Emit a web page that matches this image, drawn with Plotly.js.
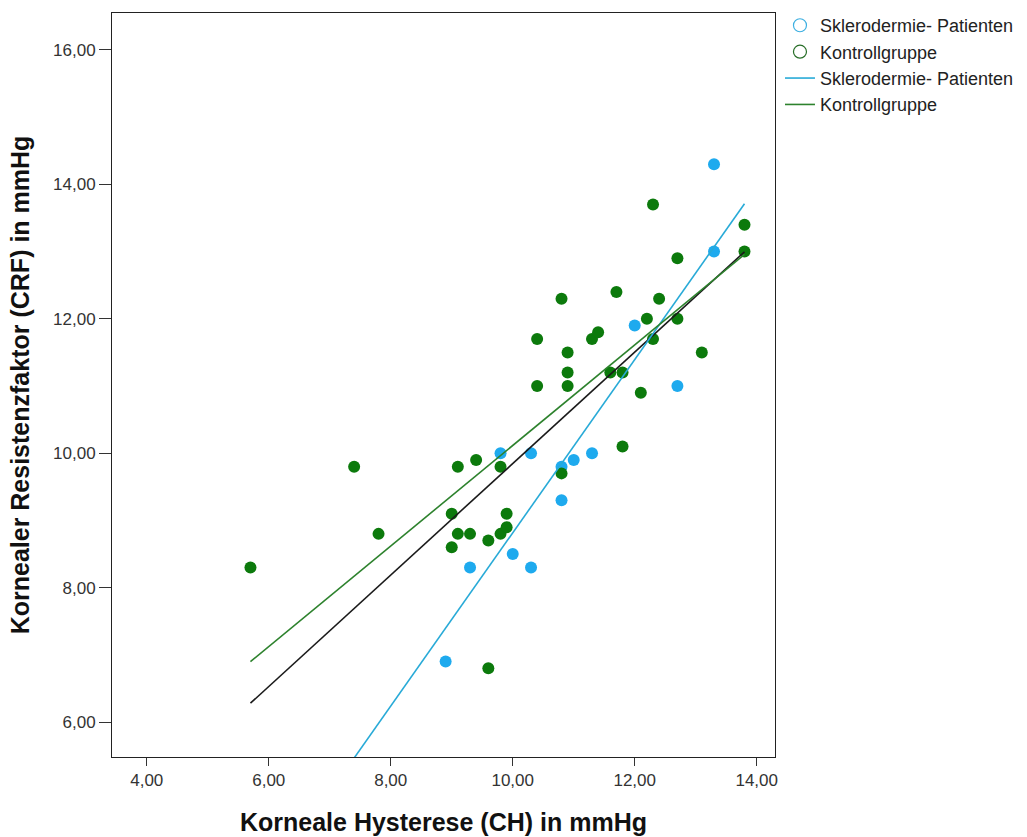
<!DOCTYPE html>
<html>
<head>
<meta charset="utf-8">
<script src="https://cdn.plot.ly/plotly-3.0.1.min.js"></script>
<style>html,body{margin:0;padding:0;background:#fff;}#chart{width:1027px;height:837px;}</style>
</head>
<body>
<div id="chart"></div>
<script>
// Sklerodermie-Patienten (CH, CRF)
const sklCH  = [13.3, 13.3, 12.0, 12.7, 9.8, 10.3, 11.0, 11.3, 10.8, 10.8, 10.0, 9.3, 10.3, 8.9];
const sklCRF = [14.3, 13.0, 11.9, 11.0, 10.0, 10.0, 9.9, 10.0, 9.8, 9.3, 8.5, 8.3, 8.3, 6.9];
// Kontrollgruppe (CH, CRF)
const konCH  = [5.7, 7.4, 7.8, 9.1, 9.4, 9.8, 9.0, 9.1, 9.3, 9.0, 9.6, 9.8, 9.9, 9.9, 9.6,
                10.8, 11.8, 10.4, 10.9, 10.9, 11.6, 11.8, 12.1, 10.9, 13.1, 10.4, 11.3, 11.4,
                12.3, 12.2, 12.7, 10.8, 11.7, 12.4, 12.7, 12.3, 13.8, 13.8];
const konCRF = [8.3, 9.8, 8.8, 9.8, 9.9, 9.8, 9.1, 8.8, 8.8, 8.6, 8.7, 8.8, 8.9, 9.1, 6.8,
                9.7, 10.1, 11.0, 11.0, 11.2, 11.2, 11.2, 10.9, 11.5, 11.5, 11.7, 11.7, 11.8,
                11.7, 12.0, 12.0, 12.3, 12.4, 12.3, 12.9, 13.7, 13.4, 13.0];
const groupNames = ["Sklerodermie- Patienten", "Kontrollgruppe"];
const xTicks = [4, 6, 8, 10, 12, 14];
const yTicks = [6, 8, 10, 12, 14, 16];

const allCH = sklCH.concat(konCH);
const allCRF = sklCRF.concat(konCRF);
const xMin = Math.min(...allCH), xMax = Math.max(...allCH);

function fit(xs, ys) {
  const n = xs.length;
  const mx = xs.reduce((a, b) => a + b, 0) / n;
  const my = ys.reduce((a, b) => a + b, 0) / n;
  let sxy = 0, sxx = 0;
  for (let i = 0; i < n; i++) { sxy += (xs[i] - mx) * (ys[i] - my); sxx += (xs[i] - mx) ** 2; }
  const b = sxy / sxx, a = my - b * mx;
  return { x: [xMin, xMax], y: [a + b * xMin, a + b * xMax] };
}
const fSkl = fit(sklCH, sklCRF);
const fKon = fit(konCH, konCRF);
const fAll = fit(allCH, allCRF);

const blue = "rgb(30,170,238)";
const green = "rgb(12,122,12)";

const traces = [
  {x: sklCH, y: sklCRF, mode: "markers", type: "scatter", showlegend: false, hoverinfo: "x+y",
   marker: {color: blue, size: 12}},
  {x: konCH, y: konCRF, mode: "markers", type: "scatter", showlegend: false, hoverinfo: "x+y",
   marker: {color: green, size: 12}},
  // legend entries (open circles)
  {x: [null], y: [null], mode: "markers", type: "scatter", name: groupNames[0],
   marker: {symbol: "circle-open", color: "rgb(60,175,225)", size: 13, line: {width: 1.2}}},
  {x: [null], y: [null], mode: "markers", type: "scatter", name: groupNames[1],
   marker: {symbol: "circle-open", color: "rgb(40,110,40)", size: 13, line: {width: 1.2}}},
  {x: fAll.x, y: fAll.y, mode: "lines", type: "scatter", showlegend: false,
   line: {color: "#1a1a1a", width: 1.6}},
  {x: fSkl.x, y: fSkl.y, mode: "lines", type: "scatter", name: groupNames[0],
   line: {color: "rgb(40,170,215)", width: 1.6}},
  {x: fKon.x, y: fKon.y, mode: "lines", type: "scatter", name: groupNames[1],
   line: {color: "rgb(45,130,45)", width: 1.6}}
];

const tickFont = {family: "Liberation Sans, Arial, sans-serif", size: 17, color: "#333"};
const titleFont = {family: "Liberation Sans, Arial, sans-serif", size: 25, color: "#111", weight: "bold"};

const layout = {
  width: 1027, height: 837,
  margin: {l: 112, r: 252, t: 13, b: 80, pad: 0, autoexpand: false},
  paper_bgcolor: "#fff", plot_bgcolor: "#fff",
  separators: ",.",
  showlegend: true,
  legend: {x: 1.0075, xanchor: "left", y: 1.008, yanchor: "top", bgcolor: "rgba(0,0,0,0)",
           font: {family: "Liberation Sans, Arial, sans-serif", size: 18, color: "#222"},
           tracegroupgap: 0, itemwidth: 30},
  xaxis: {range: [3.43, 14.3], tickvals: xTicks, tickformat: ".2f", ticks: "outside", ticklen: 8,
          tickcolor: "#333", tickwidth: 1, showgrid: false, zeroline: false, showline: true,
          mirror: true, linecolor: "#222", linewidth: 1, tickfont: tickFont, automargin: false,
          title: {text: "Korneale Hysterese (CH) in mmHg", font: titleFont, standoff: 24}},
  yaxis: {range: [5.48, 16.55], tickvals: yTicks, tickformat: ".2f", ticks: "outside", ticklen: 12,
          tickcolor: "#333", tickwidth: 1, showgrid: false, zeroline: false, showline: true,
          mirror: true, linecolor: "#222", linewidth: 1, tickfont: tickFont, automargin: false,
          title: {text: "Kornealer Resistenzfaktor (CRF) in mmHg", font: titleFont, standoff: 16}}
};

Plotly.newPlot("chart", traces, layout, {displayModeBar: false, staticPlot: true});
</script>
</body>
</html>
